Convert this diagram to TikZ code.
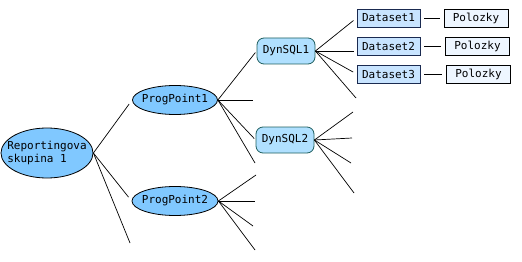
\documentclass[tikz,border=0pt]{standalone}
\usepackage{fontspec}
\setmonofont{DejaVu Sans Mono}
\usetikzlibrary{shapes.geometric,positioning}

\definecolor{ellfill}{HTML}{80C8FF}
\definecolor{sqlfill}{HTML}{B0E0FF}
\definecolor{sqldraw}{HTML}{1F5F5F}
\definecolor{dsfill}{HTML}{C8E4FF}
\definecolor{dsdraw}{HTML}{1A2A50}
\definecolor{pzfill}{HTML}{EEF6FF}

\begin{document}
\begin{tikzpicture}[x=1pt, y=-1pt,
    every node/.style={font=\ttfamily\fontsize{11}{13}\selectfont, inner sep=0pt},
    every label/.style={font=\ttfamily\fontsize{11}{13}\selectfont, inner sep=0pt},
    point/.style={draw, ellipse, fill=ellfill, line width=0.8pt},
    sql/.style={draw=sqldraw, rounded corners=7pt, fill=sqlfill, minimum width=58pt, minimum height=26pt, line width=0.8pt},
    dset/.style={draw=dsdraw, fill=dsfill, minimum width=63pt, minimum height=18pt, line width=0.8pt},
    item/.style={draw, fill=pzfill, minimum width=64pt, minimum height=18pt, line width=0.8pt},
    br/.style={line width=0.7pt, shorten >=2pt}
]
\useasboundingbox (0,0) rectangle (522,262);

\node[point, minimum width=92pt, minimum height=50pt, label={[align=left]center:Reportingova\\skupina 1}] (rep) at (47,153) {};
\node[point, minimum width=85pt, minimum height=29pt, label=center:ProgPoint1] (pp1) at (175,100) {};
\node[point, minimum width=86pt, minimum height=29pt, label=center:ProgPoint2] (pp2) at (175,201) {};

\node[sql] (sql1) at (286,51) {DynSQL1};
\node[sql] (sql2) at (285,140) {DynSQL2};

\node[dset] (ds1) at (388.5,18) {Dataset1};
\node[dset] (ds2) at (388.5,46) {Dataset2};
\node[dset] (ds3) at (388.5,74) {Dataset3};

\node[item] (pz1) at (476,18) {Polozky};
\node[item] (pz2) at (477.5,46) {Polozky};
\node[item] (pz3) at (478.5,74) {Polozky};

\coordinate (rep3) at (130,243);
\coordinate (pp1b) at (253,100);
\coordinate (pp1d) at (255,163);
\coordinate (pp2a) at (256,175);
\coordinate (pp2b) at (255,201);
\coordinate (pp2c) at (253,226);
\coordinate (pp2d) at (255,250);
\coordinate (sql1d) at (356,98);
\coordinate (sql2a) at (353,112);
\coordinate (sql2b) at (352,138);
\coordinate (sql2c) at (351,163);
\coordinate (sql2d) at (354,193);

\draw[br, shorten >=5pt] (rep.east) -- (pp1.west);
\draw[br, shorten >=5pt] (rep.east) -- (pp2.west);
\draw[br, shorten >=0pt] (rep.east) -- (rep3);

\draw[br] (pp1.east) -- (sql1.west);
\draw[br, shorten >=0pt] (pp1.east) -- (pp1b);
\draw[br] (pp1.east) -- (sql2.west);
\draw[br, shorten >=0pt] (pp1.east) -- (pp1d);

\draw[br, shorten >=0pt] (pp2.east) -- (pp2a);
\draw[br, shorten >=0pt] (pp2.east) -- (pp2b);
\draw[br, shorten >=0pt] (pp2.east) -- (pp2c);
\draw[br, shorten >=0pt] (pp2.east) -- (pp2d);

\draw[br, shorten >=4pt] (sql1.east) -- (ds1.west);
\draw[br, shorten >=3pt] (sql1.east) -- (ds2.west |- sql1.east);
\draw[br, shorten >=4pt] (sql1.east) -- (ds3.west);
\draw[br, shorten >=0pt] (sql1.east) -- (sql1d);

\draw[br, shorten >=0pt] (sql2.east) -- (sql2a);
\draw[br, shorten >=0pt] (sql2.east) -- (sql2b);
\draw[br, shorten >=0pt] (sql2.east) -- (sql2c);
\draw[br, shorten >=0pt] (sql2.east) -- (sql2d);

\draw[br, shorten <=4pt, shorten >=4pt] (ds1.east) -- (pz1.west);
\draw[br, shorten <=4pt, shorten >=4pt] (ds2.east) -- (pz2.west);
\draw[br, shorten <=4pt, shorten >=4pt] (ds3.east) -- (pz3.west);
\end{tikzpicture}
\end{document}
